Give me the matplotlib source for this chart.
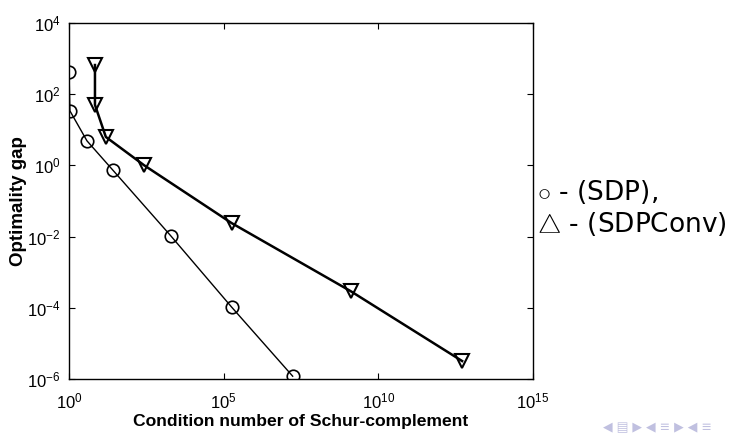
import matplotlib
matplotlib.use('Agg')
import matplotlib.pyplot as plt
import numpy as np

# SDP (circles): condition number vs optimality gap
sdp_cond = [1.0, 1.07, 3.8, 26, 1.95e3, 1.8e5, 1.7e7]
sdp_gap = [420, 34, 4.9, 0.74, 0.0105, 1.05e-4, 1.2e-6]

# SDPConv (triangles)
conv_cond = [6.9, 6.9, 15.5, 263, 1.8e5, 1.26e9, 5.1e12]
conv_gap = [660, 50, 6.3, 1.02, 0.024, 2.95e-4, 3.2e-6]

legend_lines = [r'$\circ$ - (SDP),', r'$\bigtriangleup$ - (SDPConv)']

plt.rcParams['font.family'] = ['Liberation Sans', 'DejaVu Sans']
plt.rcParams['mathtext.fontset'] = 'custom'
plt.rcParams['mathtext.rm'] = 'Liberation Sans'
plt.rcParams['mathtext.it'] = 'Liberation Sans:italic'
plt.rcParams['mathtext.bf'] = 'Liberation Sans:bold'

fig = plt.figure(figsize=(7.35, 4.33), dpi=100)
ax = fig.add_axes([0.0939, 0.1247, 0.6313, 0.8222])

ax.plot(sdp_cond, sdp_gap, color='black', lw=1.0, marker='o', ms=9,
        mfc='none', mec='black', mew=1.2)
ax.plot(conv_cond, conv_gap, color='black', lw=1.8, marker='v', ms=10,
        mfc='none', mec='black', mew=1.5)

ax.set_xscale('log')
ax.set_yscale('log')
ax.set_xlim(1, 1e15)
ax.set_ylim(1e-6, 1e4)
ax.set_xticks([1, 1e5, 1e10, 1e15])
ax.set_yticks([1e-6, 1e-4, 1e-2, 1, 1e2, 1e4])
ax.minorticks_off()
ax.tick_params(direction='in', length=4, labelsize=12, top=True, right=True)
ax.tick_params(axis='x', pad=9)
ax.tick_params(axis='y', pad=6)
for s in ax.spines.values():
    s.set_linewidth(1.0)

ax.set_xlabel('Condition number of Schur-complement', fontsize=12.6,
              fontweight='bold', labelpad=2)
ax.set_ylabel('Optimality gap', fontsize=13.5, fontweight='bold', labelpad=0)

fig.text(0.731, 0.556, legend_lines[0], fontsize=19, family='DejaVu Sans',
         va='center')
fig.text(0.731, 0.483, legend_lines[1], fontsize=19, family='DejaVu Sans',
         va='center')

# faint beamer navigation symbols
fig.text(0.82, 0.005, '\u25c0 \u25a4 \u25b6 \u25c0 \u2261 \u25b6 \u25c0 \u2261',
         fontsize=9, color='#c0c0e0', family='DejaVu Sans')

fig.savefig('out.png', dpi=100)
